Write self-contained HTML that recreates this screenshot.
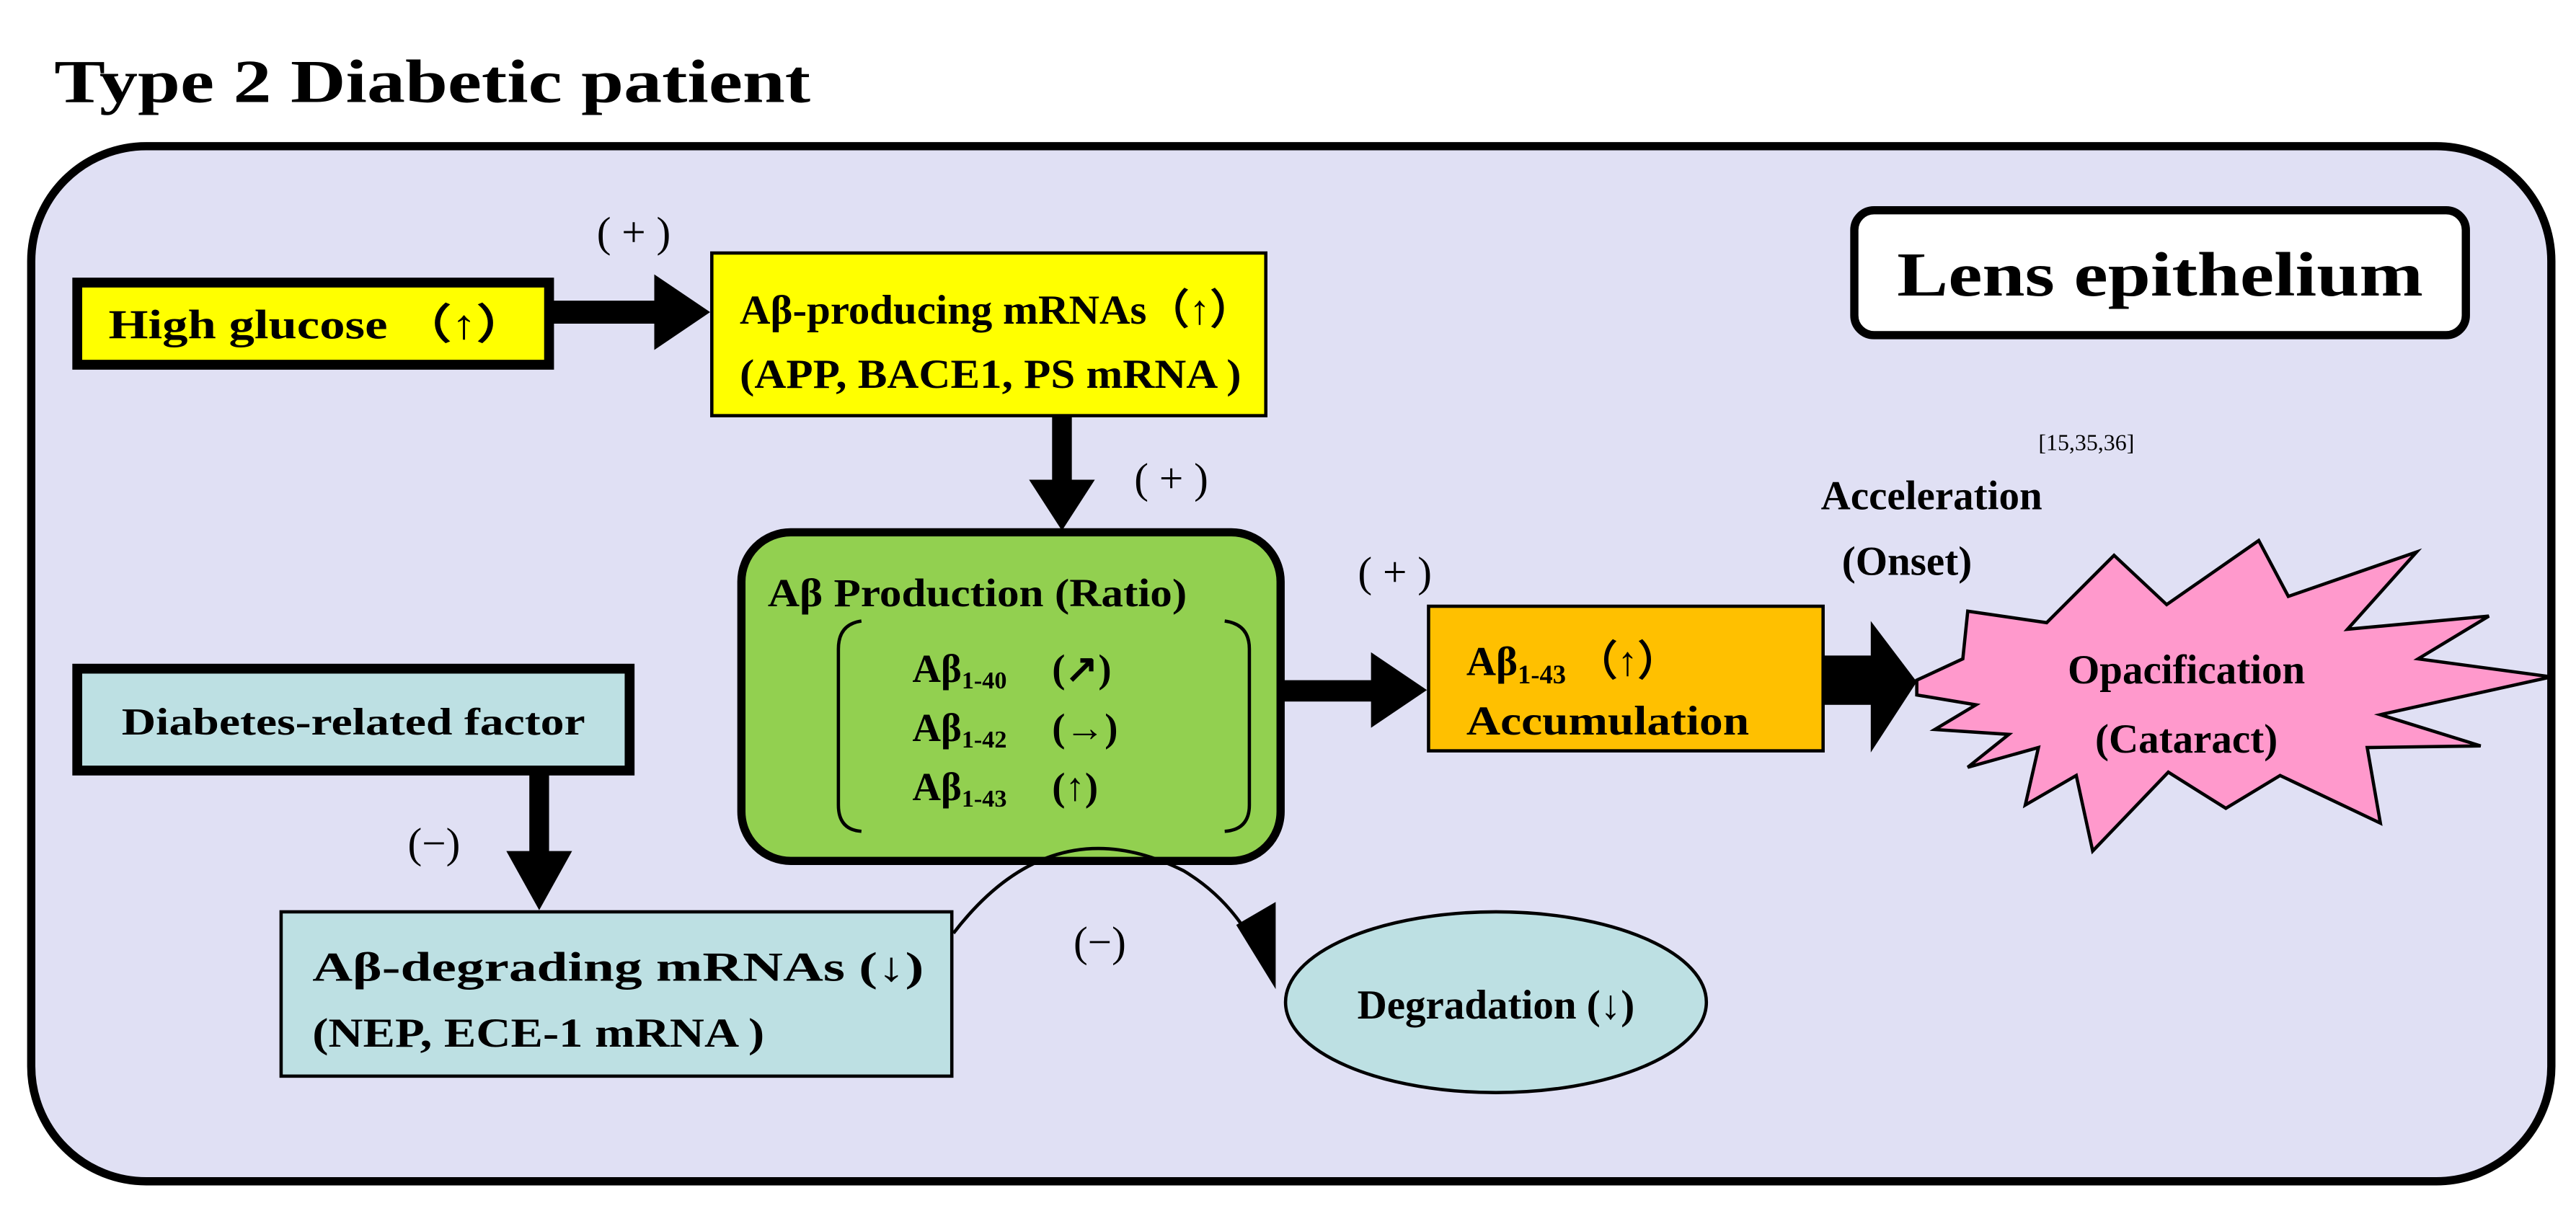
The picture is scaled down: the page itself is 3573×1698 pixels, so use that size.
<!DOCTYPE html>
<html><head><meta charset="utf-8"><style>
html,body{margin:0;padding:0;background:#fff;}
svg{display:block;}
text{font-family:"Liberation Serif",serif;font-weight:bold;fill:#000;}
.n{font-weight:normal;}
</style></head><body>
<svg width="3573" height="1698" viewBox="0 0 1567 745" preserveAspectRatio="none" xmlns="http://www.w3.org/2000/svg">
<text x="33" y="62" font-size="37" textLength="460" lengthAdjust="spacingAndGlyphs">Type 2 Diabetic patient</text>
<rect x="19" y="89" width="1533" height="630" rx="70" fill="#e0e0f4" stroke="#000" stroke-width="5"/>
<rect x="1128" y="128" width="372" height="76" rx="12" fill="#fff" stroke="#000" stroke-width="5"/>
<text x="1314" y="180" font-size="38" text-anchor="middle" textLength="320" lengthAdjust="spacingAndGlyphs">Lens epithelium</text>

<rect x="47" y="172" width="287" height="50" fill="#ffff00" stroke="#000" stroke-width="6"/>
<text x="66" y="206" font-size="25" textLength="255" lengthAdjust="spacingAndGlyphs">High glucose （↑）</text>
<rect x="334" y="183" width="70" height="14" fill="#000"/>
<polygon points="398,167 432,190 398,213" fill="#000"/>
<text x="363" y="150" font-size="26" class="n">( + )</text>

<rect x="433" y="154" width="337" height="99" fill="#ffff00" stroke="#000" stroke-width="2"/>
<text x="450" y="197" font-size="25" textLength="312" lengthAdjust="spacingAndGlyphs">Aβ-producing mRNAs（↑）</text>
<text x="450" y="236" font-size="25" textLength="305" lengthAdjust="spacingAndGlyphs">(APP, BACE1, PS mRNA )</text>
<rect x="640" y="253" width="12" height="42" fill="#000"/>
<polygon points="626,292 666,292 646,323" fill="#000"/>
<text x="690" y="300" font-size="26" class="n">( + )</text>

<rect x="451" y="324" width="328" height="200" rx="30" fill="#92d050" stroke="#000" stroke-width="5"/>
<text x="467" y="369" font-size="24" textLength="255" lengthAdjust="spacingAndGlyphs">Aβ Production (Ratio)</text>
<path d="M524,378 Q510,380 510,395 L510,490 Q510,505 524,506" fill="none" stroke="#000" stroke-width="2"/>
<path d="M745,378 Q760,380 760,395 L760,490 Q760,505 745,506" fill="none" stroke="#000" stroke-width="2"/>
<text x="555" y="415" font-size="24">Aβ<tspan font-size="15" dy="4">1-40</tspan><tspan dy="-4" font-size="24" x="640">(↗)</tspan></text>
<text x="555" y="451" font-size="24">Aβ<tspan font-size="15" dy="4">1-42</tspan><tspan dy="-4" font-size="24" x="640">(→)</tspan></text>
<text x="555" y="487" font-size="24">Aβ<tspan font-size="15" dy="4">1-43</tspan><tspan dy="-4" font-size="24" x="640">(↑)</tspan></text>
<rect x="779" y="414" width="62" height="13" fill="#000"/>
<polygon points="834,397 868,420 834,443" fill="#000"/>
<text x="826" y="357" font-size="26" class="n">( + )</text>

<rect x="869" y="369" width="240" height="88" fill="#ffc000" stroke="#000" stroke-width="2"/>
<text x="892" y="411" font-size="25">Aβ<tspan font-size="16" dy="5">1-43</tspan><tspan dy="-5" font-size="25">  （↑）</tspan></text>
<text x="892" y="447" font-size="25" textLength="172" lengthAdjust="spacingAndGlyphs">Accumulation</text>
<rect x="1109" y="399" width="32" height="30" fill="#000"/>
<polygon points="1138,378 1166,415 1138,458" fill="#000"/>

<text x="1240" y="274" font-size="14" class="n">[15,35,36]</text>
<text x="1175" y="310" font-size="25" text-anchor="middle">Acceleration</text>
<text x="1160" y="350" font-size="25" text-anchor="middle">(Onset)</text>

<polygon points="1166,414 1194,401 1197,372 1245,379 1286,338 1318,368 1374,329 1392,363 1470,336 1428,383 1514,375 1471,401 1552,412 1448,435 1509,454 1440,455 1448,501 1387,472 1354,492 1319,470 1273,518 1263,472 1232,490 1240,455 1197,467 1222,447 1177,444 1202,429 1166,423" fill="#ff99cc" stroke="#000" stroke-width="2"/>
<text x="1330" y="416" font-size="25" text-anchor="middle">Opacification</text>
<text x="1330" y="458" font-size="25" text-anchor="middle">(Cataract)</text>

<rect x="47" y="407" width="336" height="62" fill="#bde0e3" stroke="#000" stroke-width="6"/>
<text x="215" y="447" font-size="23" text-anchor="middle" textLength="282" lengthAdjust="spacingAndGlyphs">Diabetes-related factor</text>
<rect x="322" y="469" width="12" height="52" fill="#000"/>
<polygon points="308,518 348,518 328,554" fill="#000"/>
<text x="248" y="522" font-size="26" class="n">(−)</text>

<rect x="171" y="555" width="408" height="100" fill="#bde0e3" stroke="#000" stroke-width="2"/>
<text x="190" y="597" font-size="25" textLength="372" lengthAdjust="spacingAndGlyphs">Aβ-degrading mRNAs   (↓)</text>
<text x="190" y="637" font-size="25" textLength="275" lengthAdjust="spacingAndGlyphs">(NEP, ECE-1  mRNA )</text>

<path d="M580,568 Q640,490 720,530 Q745,545 760,570" fill="none" stroke="#000" stroke-width="2"/>
<polygon points="752,563 776,602 776,549" fill="#000"/>
<text x="653" y="582" font-size="26" class="n">(−)</text>

<ellipse cx="910" cy="610" rx="128" ry="55" fill="#bde0e3" stroke="#000" stroke-width="2"/>
<text x="910" y="620" font-size="25" text-anchor="middle">Degradation (↓)</text>
</svg>
</body></html>
